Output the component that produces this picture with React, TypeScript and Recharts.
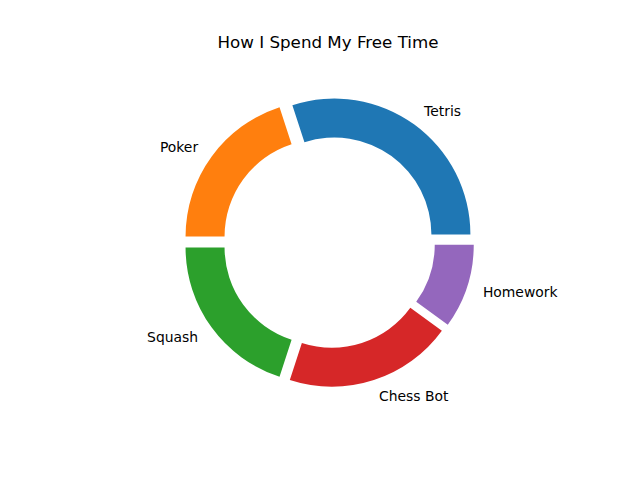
import { Pie, PieChart, Sector } from "recharts";

const ACTIVITIES = ["Tetris", "Poker", "Squash", "Chess Bot", "Homework"];
const HOURS = [30, 20, 20, 20, 10];
const COLORS = ["#1f77b4", "#ff7f0e", "#2ca02c", "#d62728", "#9467bd"];

const data = ACTIVITIES.map((name, i) => ({ name, value: HOURS[i], fill: COLORS[i] }));

const RADIAN = Math.PI / 180;
const EXPLODE = 9.2;
const FONT = "'DejaVu Sans', sans-serif";

// shift each wedge outwards along its mid angle, like matplotlib's explode
const ExplodedSector = (props: any) => {
  const { cx, cy, midAngle } = props;
  const dx = EXPLODE * Math.cos(-midAngle * RADIAN);
  const dy = EXPLODE * Math.sin(-midAngle * RADIAN);
  return <Sector {...props} cx={cx + dx} cy={cy + dy} stroke="none" />;
};

const renderLabel = (props: any) => {
  const { cx, cy, midAngle, outerRadius, name } = props;
  const cos = Math.cos(-midAngle * RADIAN);
  const sin = Math.sin(-midAngle * RADIAN);
  const r = outerRadius * 1.1 + EXPLODE + 3;
  return (
    <text
      x={cx + r * cos}
      y={cy + r * sin}
      fill="#000"
      fontSize={13.9}
      fontFamily={FONT}
      textAnchor={cos >= 0 ? "start" : "end"}
      dominantBaseline="central"
    >
      {name}
    </text>
  );
};

export default function App() {
  return (
    <div style={{ position: "absolute", left: 0, top: 0, width: 640, height: 480, background: "#fff" }}>
      <div
        style={{
          position: "absolute",
          left: 0,
          top: 32,
          width: 656,
          textAlign: "center",
          fontFamily: FONT,
          fontSize: 16.7,
          color: "#000",
          lineHeight: "20px",
        }}
      >
        How I Spend My Free Time
      </div>
      <PieChart width={640} height={480} margin={{ top: 0, right: 0, bottom: 0, left: 0 }}>
        <Pie
          data={data}
          dataKey="value"
          nameKey="name"
          cx={329}
          cy={242}
          innerRadius={97}
          outerRadius={136}
          startAngle={0}
          endAngle={360}
          stroke="none"
          label={renderLabel}
          labelLine={false}
          shape={ExplodedSector}
          activeShape={ExplodedSector}
          inactiveShape={ExplodedSector}
          isAnimationActive={false}
        />
      </PieChart>
    </div>
  );
}
